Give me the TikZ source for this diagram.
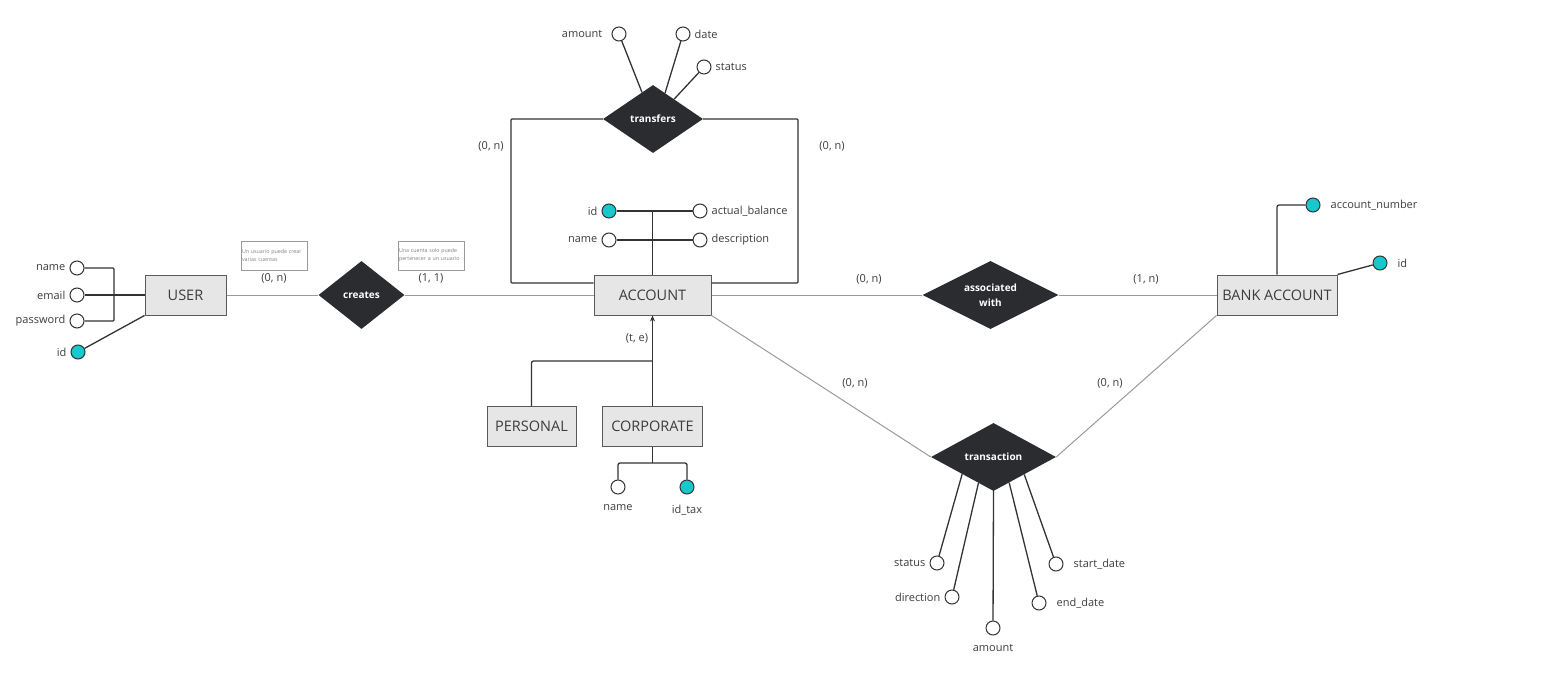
\documentclass[tikz,border=0pt]{standalone}
\usepackage{fontspec}
\setmainfont{Open Sans}
\usetikzlibrary{shapes.geometric,calc,positioning,arrows.meta}

\definecolor{relfill}{HTML}{2B2C30}
\definecolor{keycyan}{HTML}{17C8CC}
\definecolor{entfill}{HTML}{E6E6E6}
\definecolor{entline}{HTML}{5A5A5A}
\definecolor{linkgray}{HTML}{9A9A9A}
\definecolor{attline}{HTML}{333333}
\definecolor{txt}{HTML}{3C3C3C}

\begin{document}
\begin{tikzpicture}[x=1pt,y=-1pt,
    entity/.style={draw=entline,fill=entfill,line width=1pt,minimum height=40pt,inner sep=0pt,text=txt,font=\fontsize{14.5}{17}\selectfont},
    relation/.style={diamond,fill=relfill,aspect=2,inner sep=0pt,minimum height=68pt,text=white,align=center,font=\fontsize{10}{15}\selectfont\bfseries},
    attr/.style={circle,draw=attline,fill=white,line width=1pt,minimum size=14pt,inner sep=0pt},
    keyattr/.style={attr,fill=keycyan},
    card/.style={text=txt,font=\fontsize{11}{13}\selectfont},
    note/.style={draw=linkgray,fill=white,line width=0.6pt,minimum width=66pt,minimum height=29pt,text width=64pt,inner sep=1pt,align=left,text=gray,font=\fontsize{5.3}{8}\selectfont},
    rel/.style={draw=linkgray,line width=1pt},
    link/.style={draw=attline,line width=1.3pt},
    every label/.style={text=txt,inner sep=4pt,font=\fontsize{11}{13}\selectfont}
  ]
  \useasboundingbox (0,0) rectangle (1553,698);

  % entities
  \node[entity,minimum width=81pt] (user) at (185.5,295) {USER};
  \node[entity,minimum width=117pt] (account) at (652.5,295) {ACCOUNT};
  \node[entity,minimum width=120pt] (bank) at (1277,295) {BANK ACCOUNT};
  \node[entity,minimum width=89pt] (personal) at (531.5,426.5) {PERSONAL};
  \node[entity,minimum width=100pt] (corporate) at (652.5,426.5) {CORPORATE};

  % relations
  \node[relation,minimum width=86pt] (creates) at (361.5,295) {creates};
  \node[relation,minimum width=136pt] (assoc) at (990.5,295) {associated\\with};
  \node[relation,minimum width=100pt] (trf) at (653,119) {transfers};
  \node[relation,minimum width=125pt] (trn) at (993.5,457) {transaction};

  \draw[rel] (user) -- (creates);
  \draw[rel] (creates) -- (account);
  \draw[rel] (account) -- (assoc);
  \draw[rel] (assoc) -- (bank);
  \draw[rel] (account.south east) -- (trn.west);
  \draw[rel] (bank.south west) -- (trn.east);

  % notes and cardinalities
  \node[note] (note-user) at (274,255.5) {Un usuario puede crear\\varias cuentas};
  \node[note] (note-acc) at (431,255.5) {Una cuenta solo puede\\pertenecer a un usuario};
  \node[card] (card-user) at (274,278) {(0, n)};
  \node[card] (card-acc) at (431,278) {(1, 1)};
  \node[card] (card-trf-l) at (491,146) {(0, n)};
  \node[card] (card-trf-r) at (832,146) {(0, n)};
  \node[card] (card-as-l) at (869,279) {(0, n)};
  \node[card] (card-as-r) at (1146,279) {(1, n)};
  \node[card] (card-isa) at (637,338) {(t, e)};
  \node[card] (card-trn-l) at (855,383) {(0, n)};
  \node[card] (card-trn-r) at (1110,383) {(0, n)};

  % user attributes
  \node[attr,label=left:name] (u-name) at (77,268) {};
  \node[attr,label=left:email] (u-email) at (77,295) {};
  \node[attr,label=left:password] (u-pass) at (77,321) {};
  \node[keyattr,label=left:id] (u-id) at (78,352) {};
  \coordinate (u-join) at (114,295);
  \draw[link,rounded corners=1pt] (u-name) -| (u-join) |- (u-pass);
  \draw[link,line width=1.8pt] (u-email) -- (user);
  \draw[link] (u-id) -- (user.south west);

  % account attributes
  \node[keyattr,label=left:id] (a-id) at (609,211) {};
  \node[attr,label=left:name] (a-name) at (609,240) {};
  \node[attr,label=right:actual\_balance] (a-bal) at (700,211) {};
  \node[attr,label=right:description] (a-desc) at (700,240) {};
  \draw[link] (a-id) -- (a-bal);
  \draw[link] (a-name) -- (a-desc);
  \draw[link] (account.north) -- (account.north |- a-id);

  % transfers loop
  \coordinate (loop-l) at (511,283);
  \coordinate (loop-r) at (798,283);
  \draw[link,rounded corners=1pt] (trf.west) -| (loop-l) -- (loop-l -| account.west);
  \draw[link,rounded corners=1pt] (trf.east) -| (loop-r) -- (loop-r -| account.east);

  \node[attr,label={[label distance=5pt]left:amount}] (t-amount) at (619,34) {};
  \node[attr,label=right:date] (t-date) at (683,34) {};
  \node[attr,label=right:status] (t-status) at (704,67) {};
  \coordinate (trf-1) at ($(trf.west)!0.78!(trf.north)$);
  \coordinate (trf-2) at ($(trf.north)!0.24!(trf.east)$);
  \coordinate (trf-3) at ($(trf.north)!0.42!(trf.east)$);
  \draw[link] (trf-1) -- (t-amount);
  \draw[link] (trf-2) -- (t-date);
  \draw[link] (trf-3) -- (t-status);

  % transaction attributes
  \node[attr,label=left:status] (x-status) at (937,563) {};
  \node[attr,label=left:direction] (x-dir) at (952,597) {};
  \node[attr,label={[label distance=5pt]below:amount}] (x-amount) at (993,628) {};
  \node[attr,label={[label distance=6pt]right:end\_date}] (x-end) at (1039,603) {};
  \node[attr,label={[label distance=6pt]right:start\_date}] (x-start) at (1056,564) {};
  \coordinate (trn-1) at ($(trn.west)!0.5!(trn.south)$);
  \coordinate (trn-2) at ($(trn.west)!0.76!(trn.south)$);
  \coordinate (trn-3) at ($(trn.south)!0.25!(trn.east)$);
  \coordinate (trn-4) at ($(trn.south)!0.49!(trn.east)$);
  \draw[link] (trn-1) -- (x-status);
  \draw[link] (trn-2) -- (x-dir);
  \draw[link] (trn.south) -- (x-amount);
  \draw[link] (trn-3) -- (x-end);
  \draw[link] (trn-4) -- (x-start);

  % bank account attributes
  \node[keyattr,label={[label distance=6pt]right:account\_number}] (b-num) at (1313,205) {};
  \node[keyattr,label={[label distance=6pt]right:id}] (b-id) at (1380,263) {};
  \draw[link,rounded corners=2pt] (bank.north) |- (b-num);
  \draw[link] (bank.north east) -- (b-id);

  % specialisation
  \coordinate (isa) at (652.5,361);
  \draw[link,-{Stealth[length=6pt,width=5pt]}] (corporate.north) -- (account.south);
  \draw[link,rounded corners=2pt] (personal.north) |- (isa);

  \node[attr,label={[label distance=6pt]below:name}] (c-name) at (618,487) {};
  \node[keyattr,label={[label distance=6pt]below:id\_tax}] (c-tax) at (687,487) {};
  \coordinate (c-join) at (652.5,463);
  \draw[link] (corporate.south) -- (c-join);
  \draw[link,rounded corners=2pt] (c-name) |- (c-join) -| (c-tax);
\end{tikzpicture}
\end{document}
